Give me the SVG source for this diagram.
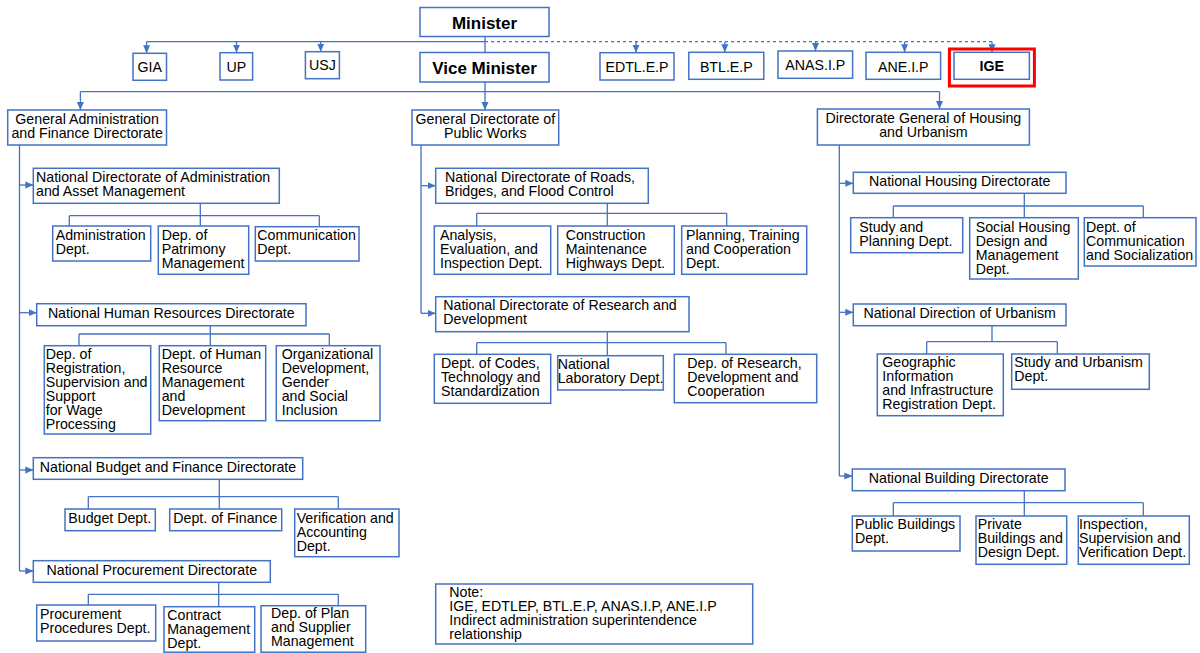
<svg xmlns="http://www.w3.org/2000/svg" width="1200" height="653" viewBox="0 0 1200 653">
  <defs>
    <style>
      .b { fill: #ffffff; stroke: #4472C4; stroke-width: 1.5; }
      .t { font-family: "Liberation Sans", Arial, sans-serif; font-size: 14.2px; fill: #000000; }
      .m { text-anchor: middle; }
      .h { font-weight: bold; font-size: 17px; }
      .c { fill: none; stroke: #4472C4; stroke-width: 1.3; }
      .a { fill: none; stroke: #4472C4; stroke-width: 1.3; marker-end: url(#arrow); }
      .d { fill: none; stroke: #4472C4; stroke-width: 1.3; stroke-dasharray: 3 3; }
      .hl { fill: none; stroke: #FF0000; stroke-width: 3; }
    </style>
    <marker id="arrow" viewBox="0 0 8 8" refX="8" refY="4" markerWidth="8" markerHeight="8" markerUnits="userSpaceOnUse" orient="auto">
      <path d="M0,0.5 L8,4 L0,7.5 z" fill="#4472C4"/>
    </marker>
  </defs>
  <rect width="1200" height="653" fill="#ffffff"/>

  <!-- connectors -->
  <g id="connectors">
    <!-- minister level -->
    <path class="c" d="M146.6,41.7 H485 M485,36.7 V52.7"/>
    <path class="a" d="M146.6,41.7 V53.3"/>
    <path class="a" d="M236.5,41.7 V52.7"/>
    <path class="a" d="M320.7,41.7 V51.7"/>
    <path class="d" d="M485,41.7 H992"/>
    <path class="a" d="M636,41.7 V52.7"/>
    <path class="a" d="M724.8,41.7 V52.3"/>
    <path class="a" d="M815.5,41.7 V51"/>
    <path class="a" d="M904.6,41.7 V52.3"/>
    <path class="a" d="M992,41.7 V52.3"/>
    <!-- vice minister to general directorates -->
    <path class="c" d="M485,82 V91.7 M80.4,91.7 H939.5"/>
    <path class="a" d="M80.4,91.7 V110"/>
    <path class="a" d="M485,91.7 V110"/>
    <path class="a" d="M939.5,91.7 V109"/>
    <!-- general administration branch -->
    <path class="c" d="M19.5,145 V571"/>
    <path class="a" d="M19.5,185 H33.3"/>
    <path class="a" d="M19.5,312.7 H36.7"/>
    <path class="a" d="M19.5,470 H33.3"/>
    <path class="a" d="M19.5,571 H33.3"/>
    <path class="c" d="M200.3,203.3 V215.7 M69.3,215.7 H319.3 M69.3,215.7 V226 M200.3,215.7 V226 M319.3,215.7 V226.7"/>
    <path class="c" d="M210.3,325.7 V334 M79,334 H329.3 M79,334 V345.7 M210.3,334 V345.7 M329.3,334 V345.7"/>
    <path class="c" d="M219.3,479.3 V496.7 M88.3,496.7 H338.3 M88.3,496.7 V509 M219.3,496.7 V509 M338.3,496.7 V509"/>
    <path class="c" d="M218.7,582.3 V594.3 M88.3,594.3 H338.3 M88.3,594.3 V605 M218.7,594.3 V606.7 M338.3,594.3 V605.7"/>
    <!-- public works branch -->
    <path class="c" d="M421,145 V313.3"/>
    <path class="a" d="M421,185.7 H435.7"/>
    <path class="a" d="M421,313.3 H435.7"/>
    <path class="c" d="M607.3,203.3 V213.3 M476.7,213.3 H726.7 M476.7,213.3 V226 M607.3,213.3 V226 M726.7,213.3 V226"/>
    <path class="c" d="M607.3,331.7 V342.7 M476.7,342.7 H726 M476.7,342.7 V354.3 M607.3,342.7 V355.7 M726,342.7 V354.3"/>
    <!-- housing and urbanism branch -->
    <path class="c" d="M839.3,145 V476"/>
    <path class="a" d="M839.3,183.3 H853.3"/>
    <path class="a" d="M839.3,312.3 H853.3"/>
    <path class="a" d="M839.3,476 H852.3"/>
    <path class="c" d="M1024.3,193.3 V206 M893.3,206 H1143.3 M893.3,206 V217.7 M1024.3,206 V217.7 M1143.3,206 V217.7"/>
    <path class="c" d="M992,325.7 V341.7 M926.7,341.7 H1057.3 M926.7,341.7 V354 M1057.3,341.7 V354"/>
    <path class="c" d="M1024.3,490.7 V502.7 M893.3,502.7 H1143.3 M893.3,502.7 V516 M1024.3,502.7 V516 M1143.3,502.7 V516"/>
  </g>

  <!-- top level -->
  <g id="minister"><rect class="b" x="420" y="7.5" width="129" height="29"/><text class="t m h" x="484.5" y="29">Minister</text></g>
  <g id="vice-minister"><rect class="b" x="420" y="52.5" width="129" height="29.5"/><text class="t m h" x="484.5" y="73.5">Vice Minister</text></g>
  <g id="gia"><rect class="b" x="133" y="53.3" width="33.5" height="27"/><text class="t m" x="149.8" y="72.3">GIA</text></g>
  <g id="up"><rect class="b" x="220" y="52.7" width="32.6" height="27.3"/><text class="t m" x="236.3" y="71.8">UP</text></g>
  <g id="usj"><rect class="b" x="305.4" y="51.7" width="34" height="27"/><text class="t m" x="322.4" y="69.8">USJ</text></g>
  <g id="edtl"><rect class="b" x="600" y="52.7" width="74" height="27.3"/><text class="t m" x="637" y="72">EDTL.E.P</text></g>
  <g id="btl"><rect class="b" x="688.8" y="52.3" width="75" height="27"/><text class="t m" x="726.3" y="71.5">BTL.E.P</text></g>
  <g id="anas"><rect class="b" x="778" y="51" width="74.6" height="27.3"/><text class="t m" x="815.3" y="69.8">ANAS.I.P</text></g>
  <g id="ane"><rect class="b" x="866" y="52.3" width="74.6" height="27"/><text class="t m" x="903.3" y="71.5">ANE.I.P</text></g>
  <g id="ige"><rect class="hl" x="949.4" y="49" width="85" height="37"/><rect class="b" x="954" y="52.3" width="75.4" height="27"/><text class="t m" x="991.7" y="71" font-weight="bold">IGE</text></g>

  <!-- general directorates -->
  <g id="gen-admin"><rect class="b" x="7.7" y="110" width="158.8" height="35"/><text class="t m"><tspan x="87.1" y="123.5">General Administration</tspan><tspan x="87.1" y="137.5">and Finance Directorate</tspan></text></g>
  <g id="public-works"><rect class="b" x="412" y="110" width="146.7" height="35"/><text class="t m"><tspan x="485.3" y="123.5">General Directorate of</tspan><tspan x="485.3" y="137.5">Public Works</tspan></text></g>
  <g id="housing"><rect class="b" x="817.4" y="109" width="212" height="36"/><text class="t m"><tspan x="923.4" y="123.3">Directorate General of Housing</tspan><tspan x="923.4" y="137.3">and Urbanism</tspan></text></g>

  <!-- administration and finance -->
  <g id="nd-admin-asset"><rect class="b" x="33.3" y="168.3" width="246" height="35"/><text class="t"><tspan x="36" y="181.7">National Directorate of Administration</tspan><tspan x="36" y="195.7">and Asset Management</tspan></text></g>
  <g id="admin-dept"><rect class="b" x="52.7" y="226" width="98" height="35"/><text class="t"><tspan x="55.7" y="240">Administration</tspan><tspan x="55.7" y="254">Dept.</tspan></text></g>
  <g id="patrimony-dept"><rect class="b" x="158.3" y="226" width="90.4" height="48.3"/><text class="t"><tspan x="161.7" y="240">Dep. of</tspan><tspan x="161.7" y="254">Patrimony</tspan><tspan x="161.7" y="268">Management</tspan></text></g>
  <g id="communication-dept"><rect class="b" x="255.3" y="226.7" width="103.7" height="34.3"/><text class="t"><tspan x="257.3" y="240">Communication</tspan><tspan x="257.3" y="254">Dept.</tspan></text></g>

  <g id="nd-human-resources"><rect class="b" x="36.7" y="303.7" width="269.3" height="22"/><text class="t m" x="171.3" y="318">National Human Resources Directorate</text></g>
  <g id="registration-dept"><rect class="b" x="44.3" y="345.7" width="106.4" height="88.3"/><text class="t"><tspan x="45.7" y="358.5">Dep. of</tspan><tspan x="45.7" y="372.5">Registration,</tspan><tspan x="45.7" y="386.5">Supervision and</tspan><tspan x="45.7" y="400.5">Support</tspan><tspan x="45.7" y="414.5">for Wage</tspan><tspan x="45.7" y="428.5">Processing</tspan></text></g>
  <g id="hr-management-dept"><rect class="b" x="159.3" y="345.7" width="106.4" height="75"/><text class="t"><tspan x="161.7" y="358.5">Dept. of Human</tspan><tspan x="161.7" y="372.5">Resource</tspan><tspan x="161.7" y="386.5">Management</tspan><tspan x="161.7" y="400.5">and</tspan><tspan x="161.7" y="414.5">Development</tspan></text></g>
  <g id="org-dev-dept"><rect class="b" x="276.3" y="345.7" width="103.7" height="75"/><text class="t"><tspan x="281.7" y="358.5">Organizational</tspan><tspan x="281.7" y="372.5">Development,</tspan><tspan x="281.7" y="386.5">Gender</tspan><tspan x="281.7" y="400.5">and Social</tspan><tspan x="281.7" y="414.5">Inclusion</tspan></text></g>

  <g id="nd-budget-finance"><rect class="b" x="33.3" y="457.7" width="269.4" height="21.6"/><text class="t m" x="168" y="471.8">National Budget and Finance Directorate</text></g>
  <g id="budget-dept"><rect class="b" x="65" y="509" width="90.3" height="21.7"/><text class="t" x="68.3" y="523">Budget Dept.</text></g>
  <g id="finance-dept"><rect class="b" x="169.7" y="509" width="112" height="21.7"/><text class="t" x="173.3" y="523">Dept. of Finance</text></g>
  <g id="verification-dept"><rect class="b" x="294.7" y="509" width="104.3" height="47.7"/><text class="t"><tspan x="296.7" y="522.5">Verification and</tspan><tspan x="296.7" y="536.5">Accounting</tspan><tspan x="296.7" y="550.5">Dept.</tspan></text></g>

  <g id="nd-procurement"><rect class="b" x="33.3" y="560.7" width="237" height="21.6"/><text class="t m" x="151.8" y="575">National Procurement Directorate</text></g>
  <g id="procedures-dept"><rect class="b" x="36.7" y="605" width="119" height="36"/><text class="t"><tspan x="40" y="618.5">Procurement</tspan><tspan x="40" y="632.5">Procedures Dept.</tspan></text></g>
  <g id="contract-dept"><rect class="b" x="164" y="606.7" width="90.7" height="45.5"/><text class="t"><tspan x="167.3" y="619.7">Contract</tspan><tspan x="167.3" y="633.7">Management</tspan><tspan x="167.3" y="647.7">Dept.</tspan></text></g>
  <g id="plan-supplier-dept"><rect class="b" x="261" y="605.7" width="104.7" height="46.5"/><text class="t"><tspan x="271" y="618.3">Dep. of Plan</tspan><tspan x="271" y="632.3">and Supplier</tspan><tspan x="271" y="646.3">Management</tspan></text></g>

  <!-- public works -->
  <g id="nd-roads"><rect class="b" x="435.7" y="168.3" width="212.6" height="35"/><text class="t"><tspan x="445" y="181.7">National Directorate of Roads,</tspan><tspan x="445" y="195.7">Bridges, and Flood Control</tspan></text></g>
  <g id="analysis-dept"><rect class="b" x="434.3" y="226" width="116.4" height="48.3"/><text class="t"><tspan x="440" y="240">Analysis,</tspan><tspan x="440" y="254">Evaluation, and</tspan><tspan x="440" y="268">Inspection Dept.</tspan></text></g>
  <g id="construction-dept"><rect class="b" x="557.7" y="226" width="116.6" height="48.3"/><text class="t"><tspan x="565.7" y="240">Construction</tspan><tspan x="565.7" y="254">Maintenance</tspan><tspan x="565.7" y="268">Highways Dept.</tspan></text></g>
  <g id="planning-dept"><rect class="b" x="681.7" y="226" width="125" height="48.3"/><text class="t"><tspan x="686" y="240">Planning, Training</tspan><tspan x="686" y="254">and Cooperation</tspan><tspan x="686" y="268">Dept.</tspan></text></g>

  <g id="nd-research"><rect class="b" x="435.7" y="296.7" width="253.3" height="35"/><text class="t"><tspan x="443.3" y="310">National Directorate of Research and</tspan><tspan x="443.3" y="324">Development</tspan></text></g>
  <g id="codes-dept"><rect class="b" x="434.3" y="354.3" width="116.4" height="49"/><text class="t"><tspan x="441" y="368">Dept. of Codes,</tspan><tspan x="441" y="382">Technology and</tspan><tspan x="441" y="396">Standardization</tspan></text></g>
  <g id="laboratory-dept"><rect class="b" x="557.7" y="355.7" width="105.6" height="34.3"/><text class="t"><tspan x="557.7" y="369">National</tspan><tspan x="557.7" y="383">Laboratory Dept.</tspan></text></g>
  <g id="research-dept"><rect class="b" x="674.3" y="354.3" width="142.4" height="48.4"/><text class="t"><tspan x="687.3" y="368">Dep. of Research,</tspan><tspan x="687.3" y="382">Development and</tspan><tspan x="687.3" y="396">Cooperation</tspan></text></g>

  <!-- housing and urbanism -->
  <g id="nd-housing"><rect class="b" x="853.3" y="172.3" width="212.7" height="21"/><text class="t m" x="959.7" y="186.2">National Housing Directorate</text></g>
  <g id="study-planning-dept"><rect class="b" x="850.7" y="217.7" width="112" height="35"/><text class="t"><tspan x="859.3" y="231.5">Study and</tspan><tspan x="859.3" y="245.5">Planning Dept.</tspan></text></g>
  <g id="social-housing-dept"><rect class="b" x="969.7" y="217.7" width="108.6" height="61.3"/><text class="t"><tspan x="975.7" y="231.5">Social Housing</tspan><tspan x="975.7" y="245.5">Design and</tspan><tspan x="975.7" y="259.5">Management</tspan><tspan x="975.7" y="273.5">Dept.</tspan></text></g>
  <g id="socialization-dept"><rect class="b" x="1084.3" y="217.7" width="111.7" height="48.3"/><text class="t"><tspan x="1086" y="231.5">Dept. of</tspan><tspan x="1086" y="245.5">Communication</tspan><tspan x="1086" y="259.5">and Socialization</tspan></text></g>

  <g id="nd-urbanism"><rect class="b" x="853.3" y="304" width="212.7" height="21.7"/><text class="t m" x="959.7" y="318">National Direction of Urbanism</text></g>
  <g id="geographic-dept"><rect class="b" x="877.3" y="354" width="126" height="61.7"/><text class="t"><tspan x="882.3" y="367">Geographic</tspan><tspan x="882.3" y="381">Information</tspan><tspan x="882.3" y="395">and Infrastructure</tspan><tspan x="882.3" y="409">Registration Dept.</tspan></text></g>
  <g id="urbanism-dept"><rect class="b" x="1011.7" y="354" width="137.6" height="35.3"/><text class="t"><tspan x="1014.3" y="367">Study and Urbanism</tspan><tspan x="1014.3" y="381">Dept.</tspan></text></g>

  <g id="nd-building"><rect class="b" x="852.3" y="469" width="212.7" height="21.7"/><text class="t m" x="958.7" y="483">National Building Directorate</text></g>
  <g id="public-buildings-dept"><rect class="b" x="852.3" y="516" width="107.7" height="35"/><text class="t"><tspan x="855" y="529.3">Public Buildings</tspan><tspan x="855" y="543.3">Dept.</tspan></text></g>
  <g id="private-buildings-dept"><rect class="b" x="976" y="516" width="90.7" height="48.3"/><text class="t"><tspan x="977.7" y="529.3">Private</tspan><tspan x="977.7" y="543.3">Buildings and</tspan><tspan x="977.7" y="557.3">Design Dept.</tspan></text></g>
  <g id="inspection-dept"><rect class="b" x="1078.3" y="516" width="111" height="48.3"/><text class="t"><tspan x="1079" y="529.3">Inspection,</tspan><tspan x="1079" y="543.3">Supervision and</tspan><tspan x="1079" y="557.3">Verification Dept.</tspan></text></g>

  <!-- note -->
  <g id="note"><rect class="b" x="435.7" y="584" width="317" height="60"/><text class="t"><tspan x="449.3" y="596.5">Note:</tspan><tspan x="449.3" y="610.5">IGE, EDTLEP, BTL.E.P, ANAS.I.P, ANE.I.P</tspan><tspan x="449.3" y="624.5">Indirect administration superintendence</tspan><tspan x="449.3" y="638.5">relationship</tspan></text></g>
</svg>
